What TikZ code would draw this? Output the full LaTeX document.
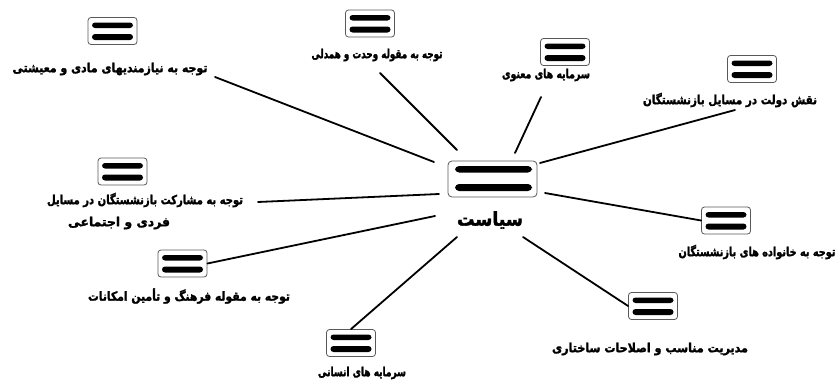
\documentclass[tikz,border=0pt]{standalone}
\usepackage{graphicx}
\usepackage{fontspec}
\newfontfamily\fa[Script=Arabic,FakeBold=2]{DejaVu Sans Bold}
\TeXXeTstate=1
\newcommand\fitw[2]{\resizebox{#1}{\height}{#2}}
\begin{document}
\begin{tikzpicture}[x=1pt,y=-1pt,
  lbl/.style={font=\fa\fontsize{12.5}{14}\selectfont, inner sep=0pt},
  spoke/.style={line width=1.8pt, line cap=round},
  iconbox/.style={draw=black!65, line width=0.8pt, rounded corners=3pt, fill=white,
    minimum width=49pt, minimum height=27pt, inner sep=0pt,
    path picture={
      \fill[black] ([xshift=4pt,yshift=-5pt]path picture bounding box.north west) rectangle ([xshift=-4pt,yshift=-10.5pt]path picture bounding box.north east);
      \fill[black] ([xshift=4pt,yshift=4.5pt]path picture bounding box.south west) rectangle ([xshift=-4pt,yshift=10.5pt]path picture bounding box.south east);
    }},
  bigbox/.style={draw=black!65, line width=0.8pt, rounded corners=4pt, fill=white,
    minimum width=89pt, minimum height=36pt, inner sep=0pt,
    path picture={
      \fill[black] ([xshift=7pt,yshift=-5pt]path picture bounding box.north west) rectangle ([xshift=-5pt,yshift=-11.5pt]path picture bounding box.north east);
      \fill[black] ([xshift=7pt,yshift=6pt]path picture bounding box.south west) rectangle ([xshift=-5pt,yshift=13pt]path picture bounding box.south east);
    }}
]
\useasboundingbox (0,0) rectangle (840,388);

% centre
\node[bigbox] (c) at (492.5,179) {};
\node[font=\fa\fontsize{19}{22}\selectfont, inner sep=0pt] (ct) at (490,220) {\fitw{66pt}{\beginR سیاست\endR}};

% icons
\node[iconbox] (i1) at (112.5,31) {};
\node[iconbox] (i2) at (370,23.5) {};
\node[iconbox] (i3) at (565,52) {};
\node[iconbox] (i4) at (752,69) {};
\node[iconbox] (i5) at (122.5,171.5) {};
\node[iconbox] (i6) at (726,220.5) {};
\node[iconbox] (i7) at (182.5,263.5) {};
\node[iconbox] (i8) at (653,306) {};
\node[iconbox] (i9) at (351,343) {};

% labels
\node[lbl] (l1) at (110,69) {\fitw{195pt}{\beginR توجه به نیازمندیهای مادی و معیشتی\endR}};
\node[lbl] (l2) at (377,55) {\fitw{131pt}{\beginR توجه به مقوله  وحدت و همدلی\endR}};
\node[lbl] (l3) at (546,75) {\fitw{88pt}{\beginR سرمایه های معنوی\endR}};
\node[lbl] (l4) at (730,100) {\fitw{174pt}{\beginR نقش دولت در مسایل بازنشستگان\endR}};
\node[lbl] (l5a) at (145,200) {\fitw{196pt}{\beginR توجه به مشارکت بازنشستگان در مسایل\endR}};
\node[lbl] (l5b) at (119,223) {\fitw{102pt}{\beginR فردی و اجتماعی\endR}};
\node[lbl] (l6) at (757,252) {\fitw{157pt}{\beginR توجه به خانواده های بازنشستگان\endR}};
\node[lbl] (l7) at (189,296) {\fitw{202pt}{\beginR توجه به مقوله فرهنگ و تأمین امکانات\endR}};
\node[lbl] (l8) at (650,349) {\fitw{196pt}{\beginR مدیریت مناسب و اصلاحات ساختاری\endR}};
\node[lbl] (l9) at (362,373) {\fitw{88pt}{\beginR سرمایه های انسانی\endR}};

% spoke ends
\coordinate (o1) at (215,77);   \coordinate (e1) at (434,162);
\coordinate (o2) at (380,73);   \coordinate (e2) at (457,150);
\coordinate (o3) at (541,97);   \coordinate (e3) at (515,153);
\coordinate (o4) at (735,110);  \coordinate (e4) at (540,163);
\coordinate (e5) at (545,193);
\coordinate (e6) at (523,237);
\coordinate (e7) at (457,237);
\coordinate (e8) at (435,216);
\coordinate (o9) at (258,202);  \coordinate (e9) at (439,194);

\draw[spoke] (o1) -- (e1);
\draw[spoke] (o2) -- (e2);
\draw[spoke] (o3) -- (e3);
\draw[spoke] (o4) -- (e4);
\draw[spoke] (i6.west) -- (e5);
\draw[spoke] (i8.west) -- (e6);
\draw[spoke] (i9.north) -- (e7);
\draw[spoke] (i7.east) -- (e8);
\draw[spoke] (o9) -- (e9);
\end{tikzpicture}
\end{document}
